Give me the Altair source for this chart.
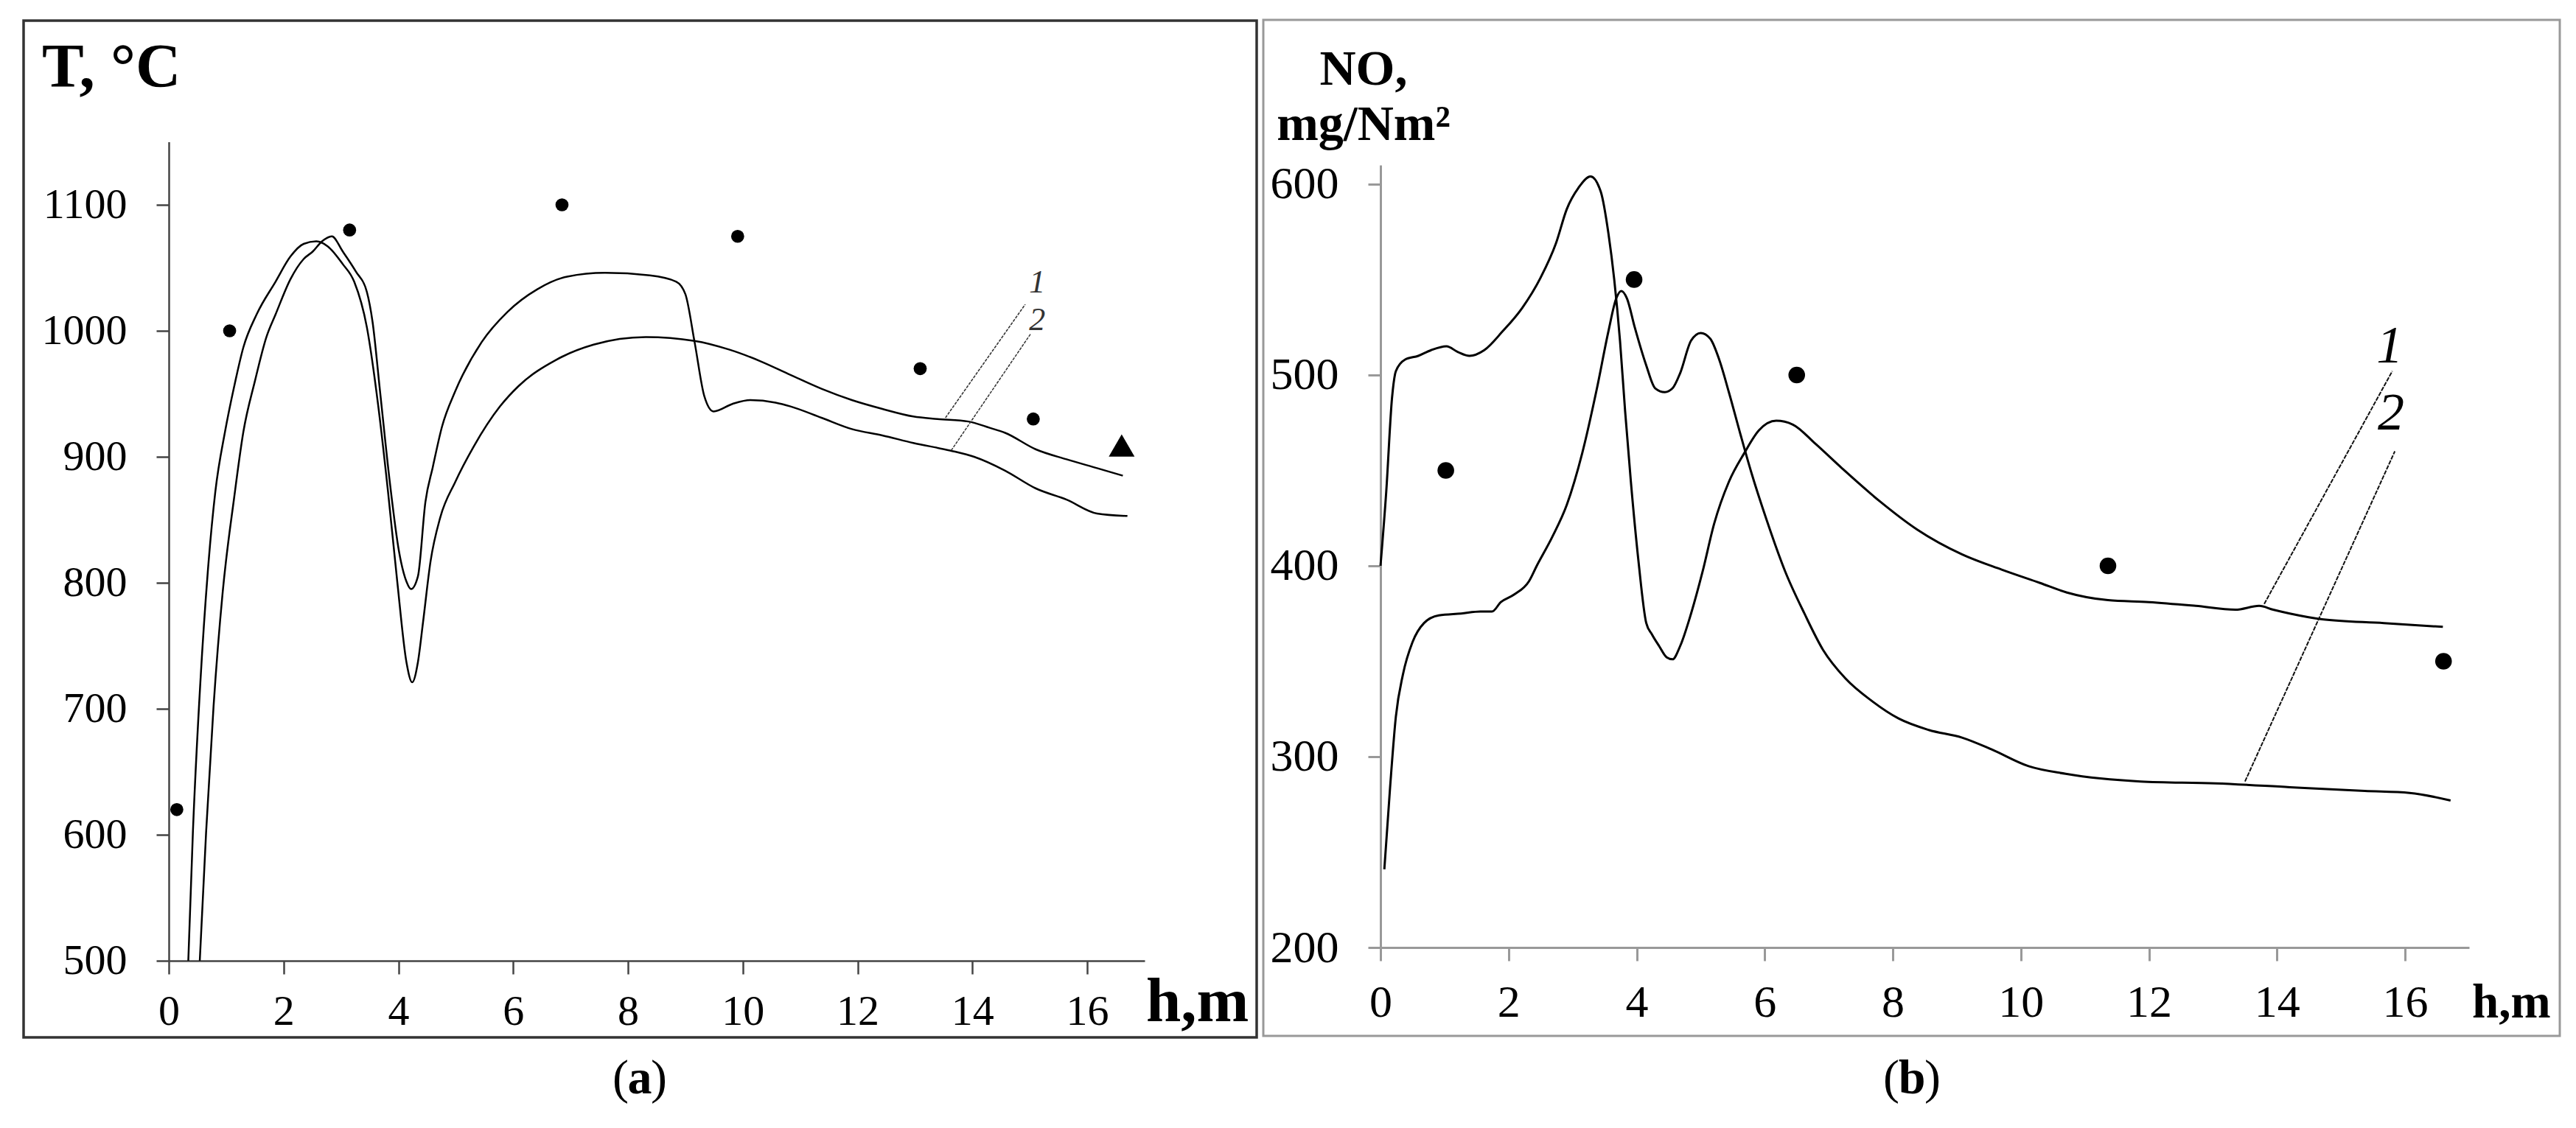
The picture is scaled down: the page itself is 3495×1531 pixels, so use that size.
import altair as alt
import pandas as pd

# ---------------- data: panel (a) temperature ----------------
a1_h = [0.34, 0.42, 0.55, 0.68, 0.81, 0.98, 1.14, 1.30, 1.53, 1.86, 2.12, 2.35, 2.57, 2.77, 3.03, 3.23,
        3.45, 3.65, 3.82, 3.98, 4.14, 4.24, 4.34, 4.43, 4.56, 4.73, 4.99, 5.31, 5.77, 6.09, 6.75, 7.40,
        8.31, 9.16, 9.77, 10.30, 10.83, 11.37, 11.90, 12.43, 12.97, 13.39, 13.93, 14.30, 14.57, 15.10,
        15.64, 16.17, 16.62]
a1_T = [500, 602, 721, 809, 872, 920, 956, 987, 1013, 1039, 1059, 1069, 1071, 1067, 1053, 1039,
        1003, 940, 872, 801, 737, 721, 737, 769, 817, 852, 880, 908, 940, 956, 977, 989,
        995, 992, 985, 976, 965, 954, 945, 938, 932, 930, 928, 923, 919, 906,
        898, 891, 885]

a2_h = [0.54, 0.65, 0.78, 0.94, 1.14, 1.30, 1.50, 1.70, 1.86, 2.12, 2.35, 2.51, 2.67, 2.84, 3.03, 3.26,
        3.45, 3.55, 3.68, 3.85, 4.01, 4.14, 4.22, 4.34, 4.47, 4.60, 4.76, 4.99, 5.45, 5.90, 6.42, 6.94,
        7.60, 8.38, 8.84, 9.00, 9.16, 9.33, 9.49, 9.82, 10.13, 10.57, 10.83, 11.37, 11.90, 12.43, 12.97,
        13.61, 14.03, 14.57, 15.10, 15.64, 16.17, 16.70]
a2_T = [500, 602, 702, 793, 868, 920, 960, 995, 1013, 1041, 1057, 1063, 1071, 1075, 1063, 1047,
        1031, 1007, 952, 880, 825, 801, 795, 805, 864, 892, 924, 952, 991, 1015, 1033, 1043,
        1046, 1044, 1039, 1029, 991, 948, 936, 942, 945, 943, 940, 931, 922, 917, 911,
        905, 900, 889, 875, 866, 855, 853]

a_pts_h = [0.14, 1.06, 3.15, 6.85, 9.91, 13.09, 15.06]
a_pts_T = [620, 1000, 1080, 1100, 1075, 970, 930]
a_tri_h = [16.6]
a_tri_T = [909]

a_lab_t = ["1", "2"]
a_lab_h = [15.13, 15.13]
a_lab_T = [1038, 1008]
a_lead_h1 = [13.53, 13.63]
a_lead_T1 = [931, 905]
a_lead_h2 = [14.92, 15.02]
a_lead_T2 = [1021, 998]

# ---------------- data: panel (b) NO ----------------
b1_h = [0.0, 0.09, 0.18, 0.24, 0.38, 0.59, 0.79, 1.03, 1.21, 1.39, 1.62, 1.91, 2.21, 2.50, 2.74, 2.91,
        3.09, 3.28, 3.44, 3.56, 3.65, 3.74, 3.82, 3.91, 4.03, 4.15, 4.24, 4.35, 4.47, 4.56, 4.68, 4.85,
        5.03, 5.21, 5.44, 5.68, 5.91, 6.18, 6.44, 6.79, 7.21, 7.79, 8.38, 9.08, 9.70, 10.30, 10.72,
        11.36, 12.00, 12.73, 13.35, 13.72, 13.94, 14.20, 14.70, 15.67, 16.59]
b1_NO = [400, 439, 488, 502, 508, 510, 513, 515, 512, 510, 513, 523, 535, 551, 569, 587,
         598, 604, 596, 574, 550, 518, 481, 444, 402, 370, 364, 358, 352, 351, 358, 375,
         397, 422, 444, 459, 471, 476, 474, 464, 451, 434, 419, 406, 398, 391, 386,
         382, 381, 379, 377, 379, 377, 375, 372, 370, 368]

b2_h = [0.06, 0.15, 0.24, 0.35, 0.50, 0.68, 0.91, 1.26, 1.56, 1.74, 1.88, 2.09, 2.32, 2.44, 2.68, 2.91,
        3.15, 3.38, 3.56, 3.68, 3.76, 3.85, 3.97, 4.15, 4.29, 4.44, 4.56, 4.68, 4.85, 5.00, 5.15, 5.29,
        5.44, 5.62, 5.79, 6.03, 6.32, 6.62, 6.91, 7.26, 7.68, 8.09, 8.56, 9.08, 9.53, 10.12, 10.70,
        11.87, 13.04, 14.20, 15.37, 16.07, 16.71]
b2_NO = [241, 284, 321, 343, 360, 370, 374, 375, 376, 376, 381, 385, 392, 400, 415, 432,
         459, 493, 523, 540, 544, 540, 525, 505, 493, 491, 493, 501, 518, 522, 519, 508,
         491, 469, 449, 424, 397, 375, 356, 341, 329, 320, 314, 310, 304, 295, 291,
         287, 286, 284, 282, 281, 277]

b_pts_h = [1.02, 3.96, 6.50, 11.36, 16.60]
b_pts_NO = [450, 550, 500, 400, 350]

b_lab_t = ["1", "2"]
b_lab_h = [15.76, 15.78]
b_lab_NO = [515, 480]
b_lead_h1 = [13.80, 13.50]
b_lead_NO1 = [380, 287]
b_lead_h2 = [15.80, 15.84]
b_lead_NO2 = [502, 460]

x_ticks = [0, 2, 4, 6, 8, 10, 12, 14, 16]
a_y_ticks = [500, 600, 700, 800, 900, 1000, 1100]
b_y_ticks = [200, 300, 400, 500, 600]

# ---------------- layout ----------------
W, H = 3470, 1510
SERIF = "Liberation Serif"

xa = alt.Scale(domain=[0, 17], range=[221, 1545], nice=False, zero=False)
ya = alt.Scale(domain=[500, 1150], range=[1296, 184.5], nice=False, zero=False)
xb = alt.Scale(domain=[0, 17], range=[1865, 3342], nice=False, zero=False)
yb = alt.Scale(domain=[200, 610], range=[1278, 216], nice=False, zero=False)

ax_xa = alt.Axis(orient="bottom", offset=1296 - H, values=x_ticks, format="d", title=None, grid=False,
                 labelFont=SERIF, labelFontSize=58, labelColor="black", labelPadding=22,
                 labelFlush=False, labelOverlap=False, domainColor="#444", domainWidth=2.5,
                 tickColor="#444", tickWidth=2.5, tickSize=18)
ax_ya = alt.Axis(orient="left", offset=-221, values=a_y_ticks, format="d", title=None, grid=False,
                 labelFont=SERIF, labelFontSize=58, labelColor="black", labelPadding=40,
                 labelFlush=False, labelOverlap=False, domainColor="#444", domainWidth=2.5,
                 tickColor="#444", tickWidth=2.5, tickSize=17)
ax_xb = alt.Axis(orient="bottom", offset=1278 - H, values=x_ticks, format="d", title=None, grid=False,
                 labelFont=SERIF, labelFontSize=62, labelColor="black", labelPadding=26,
                 labelFlush=False, labelOverlap=False, domainColor="#999", domainWidth=3,
                 tickColor="#999", tickWidth=3, tickSize=18)
ax_yb = alt.Axis(orient="left", offset=-1865, values=b_y_ticks, format="d", title=None, grid=False,
                 labelFont=SERIF, labelFontSize=62, labelColor="black", labelPadding=40,
                 labelFlush=False, labelOverlap=False, domainColor="#999", domainWidth=3,
                 tickColor="#999", tickWidth=3, tickSize=17)

# ---------------- panel (a) ----------------
df_a = pd.concat([
    pd.DataFrame({"h": a1_h, "v": a1_T, "c": "1"}),
    pd.DataFrame({"h": a2_h, "v": a2_T, "c": "2"}),
])
enc_a = dict(x=alt.X("h:Q", scale=xa, axis=ax_xa), y=alt.Y("v:Q", scale=ya, axis=ax_ya))

lines_a = alt.Chart(df_a).mark_line(interpolate="monotone", color="black", strokeWidth=2.5).encode(
    detail="c:N", **enc_a)
pts_a = alt.Chart(pd.DataFrame({"h": a_pts_h, "v": a_pts_T})).mark_point(
    shape="circle", filled=True, color="black", opacity=1, size=314).encode(**enc_a)
tri_a = alt.Chart(pd.DataFrame({"h": a_tri_h, "v": a_tri_T})).mark_point(
    shape="triangle-up", filled=True, color="black", opacity=1, size=1225).encode(**enc_a)
lead_a = alt.Chart(pd.DataFrame({"h": a_lead_h1, "v": a_lead_T1, "h2": a_lead_h2, "v2": a_lead_T2})).mark_rule(
    color="#333", strokeWidth=1.5, strokeDash=[4, 1.5]).encode(x2="h2:Q", y2="v2:Q", **enc_a)
lab_a = alt.Chart(pd.DataFrame({"h": a_lab_h, "v": a_lab_T, "t": a_lab_t})).mark_text(
    font=SERIF, fontSize=44, fontStyle="italic", color="#333", align="center", baseline="middle").encode(
    text="t:N", **enc_a)

panel_a = alt.layer(lines_a, pts_a, tri_a, lead_a, lab_a)

# ---------------- panel (b) ----------------
df_b = pd.concat([
    pd.DataFrame({"h": b1_h, "v": b1_NO, "c": "1"}),
    pd.DataFrame({"h": b2_h, "v": b2_NO, "c": "2"}),
])
enc_b = dict(x=alt.X("h:Q", scale=xb, axis=ax_xb), y=alt.Y("v:Q", scale=yb, axis=ax_yb))

lines_b = alt.Chart(df_b).mark_line(interpolate="monotone", color="black", strokeWidth=3).encode(
    detail="c:N", **enc_b)
pts_b = alt.Chart(pd.DataFrame({"h": b_pts_h, "v": b_pts_NO})).mark_point(
    shape="circle", filled=True, color="black", opacity=1, size=510).encode(**enc_b)
lead_b = alt.Chart(pd.DataFrame({"h": b_lead_h1, "v": b_lead_NO1, "h2": b_lead_h2, "v2": b_lead_NO2})).mark_rule(
    color="#111", strokeWidth=2, strokeDash=[6, 1.5]).encode(x2="h2:Q", y2="v2:Q", **enc_b)
lab_b = alt.Chart(pd.DataFrame({"h": b_lab_h, "v": b_lab_NO, "t": b_lab_t})).mark_text(
    font=SERIF, fontSize=72, fontStyle="italic", color="black", align="center", baseline="middle").encode(
    text="t:N", **enc_b)

panel_b = alt.layer(lines_b, pts_b, lead_b, lab_b)

# ---------------- decoration: frames, titles, captions ----------------
one = pd.DataFrame({"k": [0]})


def frame(x1, x2, y1, y2, color, width):
    return alt.Chart(one).mark_rect(fillOpacity=0, stroke=color, strokeWidth=width).encode(
        x=alt.value(x1), x2=alt.value(x2), y=alt.value(y1), y2=alt.value(y2))


def label(txt, x, y, size, weight="normal", align="left", style="normal"):
    return alt.Chart(one).mark_text(text=txt, font=SERIF, fontSize=size, fontWeight=weight,
                                    fontStyle=style, align=align, baseline="alphabetic",
                                    color="black").encode(x=alt.value(x), y=alt.value(y))


deco = alt.layer(
    frame(24, 1697, 20, 1400, "#333", 3.5),
    frame(1706, 3465, 19, 1398, "#999", 3),
    label("T, °C", 49, 110, 85, "bold"),
    label("h,m", 1547, 1378, 85, "bold"),
    label("NO,", 1842, 107, 68, "bold", "center"),
    label("mg/Nm²", 1842, 182, 68, "bold", "center"),
    label("h,m", 3346, 1373, 65, "bold"),
    label("(", 834, 1476, 66, "normal", "center"),
    label("a", 860, 1476, 66, "bold", "center"),
    label(")", 886, 1476, 66, "normal", "center"),
    label("(", 2558, 1476, 66, "normal", "center"),
    label("b", 2586, 1476, 66, "bold", "center"),
    label(")", 2614, 1476, 66, "normal", "center"),
)

chart = alt.layer(panel_a, panel_b, deco).resolve_scale(
    x="independent", y="independent").resolve_axis(x="independent", y="independent").properties(
    width=W, height=H, padding=0, autosize=alt.AutoSizeParams(type="none"),
    background="white").configure_view(stroke=None)

chart.save("out.html", embed_options={"renderer": "svg", "actions": False})
